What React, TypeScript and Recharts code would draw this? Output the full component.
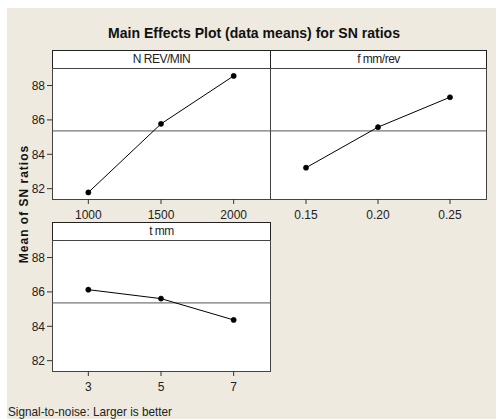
import React from 'react';
import { LineChart, Line, XAxis, YAxis, ReferenceLine } from 'recharts';

// factor levels and mean SN ratios
const speedLevels = [1000, 1500, 2000];
const speedMeans = [81.78, 85.77, 88.56];
const feedLevels = [0.15, 0.2, 0.25];
const feedMeans = [83.22, 85.58, 87.32];
const depthLevels = [3, 5, 7];
const depthMeans = [86.13, 85.61, 84.37];
const yTicks = [82, 84, 86, 88];
const grandMean = 85.36;

const FONT = "'Liberation Sans', Arial, sans-serif";
const BG = '#EEEAE0';

type PanelProps = {
    title: string;
    levels: number[];
    means: number[];
    xDomain: [number, number];
    fmt: (v: number) => string;
    x0: number;
    x1: number;
    y0: number;
    y1: number;
    showY: boolean;
};

const Panel: React.FC<PanelProps> = ({ title, levels, means, xDomain, fmt, x0, x1, y0, y1, showY }) => {
    const data = levels.map((lv, i) => ({ level: lv, mean: means[i] }));
    const yW = showY ? 52 : 0;
    const xH = 30;
    const tick = { fontSize: 12, fill: '#222', fontFamily: FONT };
    return (
        <>
            <div style={{ position: 'absolute', left: x0, top: y0 - 18, width: x1 - x0 + 1, height: 19, boxSizing: 'border-box', border: '1px solid #222', background: '#fff', textAlign: 'center', fontFamily: FONT, fontSize: 12, letterSpacing: -0.5, lineHeight: '17px', color: '#222' }}>
                {title}
            </div>
            <div style={{ position: 'absolute', left: x0, top: y0, width: x1 - x0 + 1, height: y1 - y0 + 1, boxSizing: 'border-box', border: '1px solid #444', background: '#fff' }} />
            <div style={{ position: 'absolute', left: x0 - yW, top: y0 }}>
                <LineChart width={x1 - x0 + yW} height={y1 - y0 + xH} data={data} margin={{ top: 0, right: 0, bottom: 0, left: 0 }}>
                    <XAxis dataKey="level" type="number" domain={xDomain} ticks={levels} tickFormatter={fmt} axisLine={false} tickLine={{ stroke: '#333' }} tickSize={5} tickMargin={6} height={xH} tick={tick} interval={0} />
                    <YAxis type="number" domain={[81.4, 89.02]} ticks={yTicks} hide={!showY} width={yW} axisLine={false} tickLine={{ stroke: '#333' }} tickSize={5} tickMargin={2} tick={tick} />
                    <ReferenceLine y={grandMean} stroke="#555" strokeWidth={1} ifOverflow="extendDomain" />
                    <Line type="linear" dataKey="mean" stroke="#000" strokeWidth={1} dot={{ r: 2.6, fill: '#000', stroke: '#000', strokeWidth: 0.5 }} isAnimationActive={false} />
                </LineChart>
            </div>
        </>
    );
};

export default function App() {
    return (
        <div style={{ position: 'absolute', left: 0, top: 0, width: 496, height: 419, background: '#fff' }}>
            <div style={{ position: 'absolute', left: 7, top: 8, width: 489, height: 411, background: BG }} />
            <svg width={496} height={419} style={{ position: 'absolute', left: 0, top: 0 }}>
                <text x={108} y={38} textLength={292} lengthAdjust="spacingAndGlyphs" fontFamily={FONT} fontWeight="bold" fontSize={15} fill="#111">
                    Main Effects Plot (data means) for SN ratios
                </text>
                <text x={28} y={204} textAnchor="middle" transform="rotate(-90 28 204)" fontFamily={FONT} fontWeight="bold" fontSize={12} letterSpacing={1} fill="#111">
                    Mean of SN ratios
                </text>
                <text x={8} y={416} textLength={164} lengthAdjust="spacingAndGlyphs" fontFamily={FONT} fontSize={13} fill="#222">
                    Signal-to-noise: Larger is better
                </text>
            </svg>
            <Panel title="N REV/MIN" levels={speedLevels} means={speedMeans} xDomain={[750, 2250]} fmt={(v) => String(v)} x0={52} x1={270} y0={68} y1={199} showY />
            <Panel title="f mm/rev" levels={feedLevels} means={feedMeans} xDomain={[0.125, 0.275]} fmt={(v) => v.toFixed(2)} x0={270} x1={486} y0={68} y1={199} showY={false} />
            <Panel title="t mm" levels={depthLevels} means={depthMeans} xDomain={[2, 8]} fmt={(v) => String(v)} x0={52} x1={270} y0={240} y1={371} showY />
        </div>
    );
}
